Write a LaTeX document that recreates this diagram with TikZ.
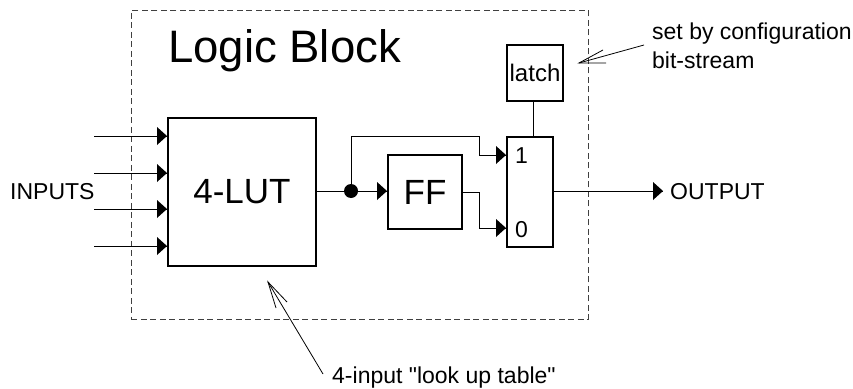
\documentclass[tikz,border=0pt]{standalone}
\usepackage{fontspec}
\setmainfont{Liberation Sans}
\newfontfamily\plainf{Liberation Sans}
\usetikzlibrary{calc}
\newcommand{\fsz}[1]{\fontsize{#1pt}{#1pt}\selectfont}
\tikzset{
  x=1pt,y=-1pt,
  block/.style={draw=black,line width=2pt,minimum width=#1,minimum height=#1,inner sep=0pt,anchor=north west},
  wire/.style={draw=black,line width=0.9pt},
  leader/.style={draw=black,line width=0.8pt},
  lbl/.style={inner sep=0pt,anchor=base west,text=black},
}
\newcommand{\tri}[1]{\fill[black] (#1) -- ++(-10,-9) -- ++(0,18) -- cycle;}
\begin{document}
\begin{tikzpicture}
\useasboundingbox (0,0) rectangle (853,388);
\node[draw=black!75,line width=0.8pt,dash pattern=on 6pt off 3.5pt,minimum width=457pt,minimum height=309pt,inner sep=0pt,anchor=north west] (frame) at (131,10) {};
\node[block=148pt,font=\fsz{35}] (lut) at (167,117) {4-LUT};
\node[block=74pt,font=\fsz{35}] (ff) at (387,154) {FF};
\node[block=56pt,font=\fsz{24}] (latch) at (506,44) {latch};
\node[draw=black,line width=2pt,minimum width=46pt,minimum height=110pt,inner sep=0pt,anchor=north west] (mux) at (506,136) {};
\node[lbl,font=\fsz{45.5}] (title) at (168,62) {Logic Block};
\node[lbl,font=\fsz{23}] (inlab) at (10,199) {INPUTS};
\node[lbl,font=\fsz{23}] (outlab) at (670,199) {OUTPUT};
\node[lbl,font=\fsz{23}] (one) at (515,163) {1};
\node[lbl,font=\fsz{23}] (zero) at (515,237) {0};
\node[lbl,font=\fsz{23}] (cfg) at (652,39) {set by configuration};
\node[lbl,font=\fsz{23}] (cfgb) at (652,68) {bit-stream};
\node[lbl,font=\fsz{23}] (tab) at (332,383) {\plainf 4-input "look up table"};
\coordinate (i1) at (94,136);\coordinate (i2) at (94,173);\coordinate (i3) at (94,209);\coordinate (i4) at (94,246);
\foreach \n in {1,2,3,4}{
  \draw[wire] (i\n) -- (i\n -| lut.west);
  \tri{i\n -| lut.west}
}
\coordinate (j) at (351,191);
\draw[wire] (lut.east |- j) -- (ff.west |- j);
\fill[black] (j) circle (7);
\tri{ff.west |- j}
\coordinate (m1) at (506,155);
\coordinate (m0) at (506,228);
\coordinate (bend) at (479,136);
\draw[wire] (j) |- (bend) |- (m1);
\tri{m1}
\draw[wire] (ff.east) -| (479,228) -- (m0);
\tri{m0}
\draw[wire] (latch.south -| 533,0) -- (mux.north -| 533,0);
\coordinate (o) at (663,191);
\draw[wire] (mux.east |- o) -- (o);
\tri{o}
\coordinate (t1) at (579,63);
\draw[leader] (644,45) -- (t1);
\draw[leader] (603,50) -- (t1) -- (606,63);
\coordinate (t2) at (268,282);
\draw[leader] (323,374) -- (t2);
\draw[leader] (276,308) -- (t2) -- (287,302);
\end{tikzpicture}
\end{document}
